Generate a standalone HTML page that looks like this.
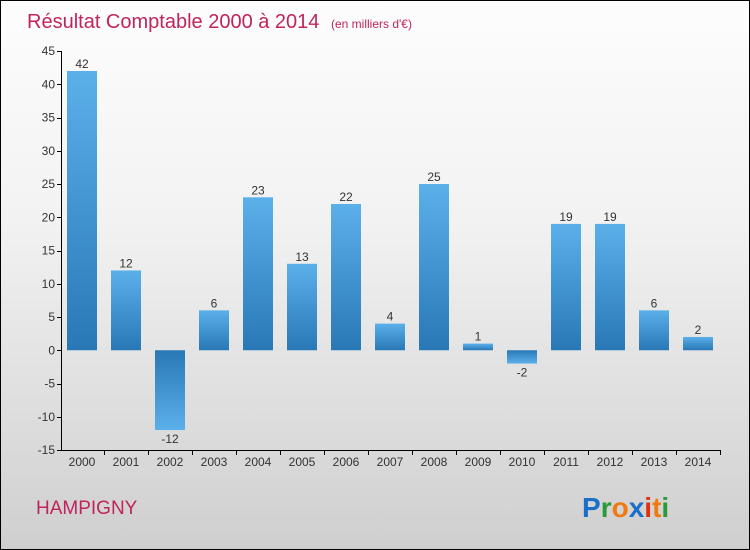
<!DOCTYPE html>
<html><head><meta charset="utf-8"><style>
body{margin:0;width:750px;height:550px;overflow:hidden}
#c{position:absolute;left:0;top:0;width:748px;height:548px;border:1px solid #000;background:linear-gradient(#fdfdfd,#f2f2f2 40%,#cfcfcf)}
</style></head><body>
<div id="c">
<svg width="750" height="550" style="position:absolute;left:-1px;top:-1px" font-family="Liberation Sans, sans-serif">
<defs>
<linearGradient id="gp" x1="0" y1="0" x2="0" y2="1"><stop offset="0" stop-color="#5cb0ea"/><stop offset="1" stop-color="#2878b6"/></linearGradient>
<linearGradient id="gn" x1="0" y1="0" x2="0" y2="1"><stop offset="0" stop-color="#2878b6"/><stop offset="1" stop-color="#5cb0ea"/></linearGradient>
</defs>
<text x="27" y="28" font-size="20" fill="#c0245c">Résultat Comptable 2000 à 2014 <tspan font-size="12" dx="6">(en milliers d'€)</tspan></text>
<g id="axes"></g><g id="bars"></g>
<text x="36" y="514" font-size="19" fill="#c0245c">HAMPIGNY</text>
<text x="582" y="517" font-size="28" font-weight="bold"><tspan fill="#1a6fc8">P</tspan><tspan fill="#2a9a3a">r</tspan><tspan fill="#f07a10">o</tspan><tspan fill="#1a6fc8">x</tspan><tspan fill="#e03010">i</tspan><tspan fill="#f07a10">t</tspan><tspan fill="#2a9a3a">i</tspan></text>
</svg></div>
<script>
const years=["2000","2001","2002","2003","2004","2005","2006","2007","2008","2009","2010","2011","2012","2013","2014"];
const values=[42,12,-12,6,23,13,22,4,25,1,-2,19,19,6,2];
const ticks=[-15,-10,-5,0,5,10,15,20,25,30,35,40,45];
const NS="http://www.w3.org/2000/svg";
const y=v=>350.25-v*6.65, x=i=>82+i*44;
function mk(t,a,p){const e=document.createElementNS(NS,t);for(const k in a)e.setAttribute(k,a[k]);p.appendChild(e);return e;}
const ax=document.getElementById('axes'), bg=document.getElementById('bars');
const yl=mk('line',{x1:61.5,x2:61.5,y1:51,y2:450,stroke:'#000'},ax);


const xl=mk('line',{x1:61,x2:720,y1:450.5,y2:450.5,stroke:'#000'},ax);


ticks.forEach(t=>{mk('line',{x1:57,x2:62,y1:Math.round(y(t))+.5,y2:Math.round(y(t))+.5,stroke:'#000'},ax);
const tx=mk('text',{x:55,y:y(t)+4,'text-anchor':'end','font-size':12,fill:'#333'},ax);tx.textContent=t;

});
years.forEach((yr,i)=>{mk('line',{x1:x(i)+22.5,x2:x(i)+22.5,y1:450,y2:455,stroke:'#000'},ax);
const tx=mk('text',{x:x(i),y:466,'text-anchor':'middle','font-size':12,fill:'#333'},ax);tx.textContent=yr;


const v=values[i],top=Math.min(y(v),y(0)),h=Math.abs(y(v)-y(0));
const r=mk('rect',{x:x(i)-15,y:top,width:30,height:h,fill:v>=0?'url(#gp)':'url(#gn)'},bg);


const l=mk('text',{x:x(i),y:v>=0?y(v)-3:y(v)+13,'text-anchor':'middle','font-size':12,fill:'#333'},bg);l.textContent=v;

});
</script>
</body></html>
